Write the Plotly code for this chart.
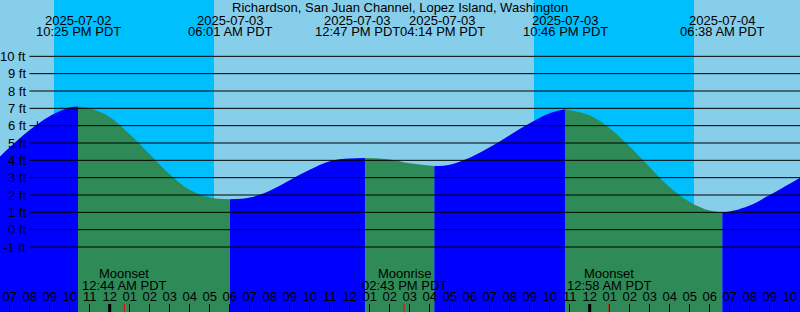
import plotly.graph_objects as go
import pandas as pd

# ---------------- data ----------------
title_text = "Richardson, San Juan Channel, Lopez Island, Washington"

extreme_times = ["2025-07-02 22:25", "2025-07-03 06:01", "2025-07-03 12:47",
                 "2025-07-03 16:14", "2025-07-03 22:46", "2025-07-04 06:38"]
extreme_heights = [7.1, 1.75, 4.13, 3.67, 6.95, 1.0]
extreme_dates = ["2025-07-02", "2025-07-03", "2025-07-03",
                 "2025-07-03", "2025-07-03", "2025-07-04"]
extreme_clock = ["10:25 PM PDT", "06:01 AM PDT", "12:47 PM PDT",
                 "04:14 PM PDT", "10:46 PM PDT", "06:38 AM PDT"]

# tide heights (ft)
reading_times = [
    "2025-07-02 18:30", "2025-07-02 19:00", "2025-07-02 20:00", "2025-07-02 21:00",
    "2025-07-02 22:00", "2025-07-02 23:00", "2025-07-03 00:00", "2025-07-03 01:00",
    "2025-07-03 02:00", "2025-07-03 03:00", "2025-07-03 04:00", "2025-07-03 05:00",
    "2025-07-03 07:00", "2025-07-03 08:00", "2025-07-03 09:00", "2025-07-03 10:00",
    "2025-07-03 11:00", "2025-07-03 12:00", "2025-07-03 14:00", "2025-07-03 15:00",
    "2025-07-03 17:00", "2025-07-03 18:00", "2025-07-03 19:00", "2025-07-03 20:00",
    "2025-07-03 21:00", "2025-07-03 22:00", "2025-07-04 00:00", "2025-07-04 01:00",
    "2025-07-04 02:00", "2025-07-04 03:00", "2025-07-04 04:00", "2025-07-04 05:00",
    "2025-07-04 06:00", "2025-07-04 07:00", "2025-07-04 08:00", "2025-07-04 09:00",
    "2025-07-04 10:00", "2025-07-04 10:31",
]
reading_heights = [
    4.2, 4.75, 5.75, 6.55,
    7.05, 7.0, 6.5, 5.5,
    4.35, 3.2, 2.3, 1.85,
    1.85, 2.25, 2.85, 3.45,
    3.95, 4.1, 4.05, 3.83,
    3.75, 4.15, 4.75, 5.45,
    6.14, 6.72, 6.6, 5.85,
    4.8, 3.6, 2.45, 1.6,
    1.1, 1.05, 1.4, 2.0,
    2.65, 3.0,
]

night_starts = ["2025-07-02 21:13", "2025-07-03 21:13"]
night_ends = ["2025-07-03 05:13", "2025-07-04 05:13"]

moon_times = ["2025-07-03 00:44", "2025-07-03 14:43", "2025-07-04 00:58"]
moon_events = ["Moonset", "Moonrise", "Moonset"]
moon_clock = ["12:44 AM PDT", "02:43 PM PDT", "12:58 AM PDT"]

midnights = ["2025-07-03 00:00", "2025-07-04 00:00"]

now_time = "2025-07-02 20:23"
now_height = 6.0

x_range = ["2025-07-02 18:31", "2025-07-04 10:31"]
y_range = [-4.75, 13.25]
grid_levels = list(range(-1, 11))

# ---------------- styling ----------------
W, H = 800, 312
FONT = "Liberation Sans, Arial, sans-serif"
FS = 13
DAY = "#87CEEB"
NIGHT = "#00BFFF"
RISE = "#0000FF"
FALL = "#2E8B57"
BASE = -20
label_xshift = [0, 0, -8, 8.5, 0, 0]   # crowded top labels pushed apart

pts = pd.concat([
    pd.DataFrame({"t": pd.to_datetime(reading_times), "h": reading_heights, "ext": False}),
    pd.DataFrame({"t": pd.to_datetime(extreme_times), "h": extreme_heights, "ext": True}),
]).sort_values("t").reset_index(drop=True)

bounds = [0] + list(pts.index[pts["ext"]]) + [len(pts) - 1]

fig = go.Figure()
for a, b in zip(bounds[:-1], bounds[1:]):
    seg = pts.iloc[a:b + 1]
    color = RISE if seg["h"].iloc[-1] > seg["h"].iloc[0] else FALL
    fig.add_trace(go.Scatter(x=[seg["t"].iloc[0], seg["t"].iloc[-1]], y=[BASE, BASE],
                             mode="lines", line=dict(width=0), hoverinfo="skip",
                             showlegend=False))
    fig.add_trace(go.Scatter(x=seg["t"], y=seg["h"], mode="lines",
                             line=dict(width=0, color=color, shape="spline", smoothing=1),
                             fill="tonexty", fillcolor=color, hoverinfo="skip",
                             showlegend=False))

shapes = []
for s, e in zip(night_starts, night_ends):
    shapes.append(dict(type="rect", xref="x", yref="paper", x0=s, x1=e, y0=0, y1=1,
                       fillcolor=NIGHT, line=dict(width=0), layer="below"))
for lv in grid_levels:
    shapes.append(dict(type="line", xref="paper", yref="y", x0=29.5 / W, x1=1, y0=lv, y1=lv,
                       line=dict(color="black", width=1), layer="above"))
for m in midnights:
    shapes.append(dict(type="line", xref="x", yref="paper", x0=m, x1=m, y0=0, y1=8 / H,
                       line=dict(color="black", width=3), layer="above"))
for m in moon_times:
    shapes.append(dict(type="line", xref="x", yref="paper", x0=m, x1=m, y0=0, y1=8 / H,
                       line=dict(color="red", width=1), layer="above"))
shapes.append(dict(type="line", xref="x", yref="y", x0=now_time, x1=now_time,
                   y0=now_height - 0.26, y1=now_height + 0.26,
                   line=dict(color="black", width=1), layer="above"))

ann = []
font = dict(family=FONT, size=FS, color="black")
ann.append(dict(text=title_text, xref="paper", yref="paper", x=0.5, y=1 - 7.5 / H,
                xanchor="center", yanchor="middle", showarrow=False, font=font))
for t, d, c, sh in zip(extreme_times, extreme_dates, extreme_clock, label_xshift):
    ann.append(dict(text=d, xref="x", yref="paper", x=t, y=1 - 20 / H, xshift=sh,
                    xanchor="center", yanchor="middle", showarrow=False, font=font))
    ann.append(dict(text=c, xref="x", yref="paper", x=t, y=1 - 32 / H, xshift=sh,
                    xanchor="center", yanchor="middle", showarrow=False, font=font))
for t, ev, c in zip(moon_times, moon_events, moon_clock):
    ann.append(dict(text=ev, xref="x", yref="paper", x=t, y=1 - 273 / H,
                    xanchor="center", yanchor="middle", showarrow=False, font=font))
    ann.append(dict(text=c, xref="x", yref="paper", x=t, y=1 - 285 / H,
                    xanchor="center", yanchor="middle", showarrow=False, font=font))
for lv in grid_levels:
    ann.append(dict(text=f"{lv} ft", xref="paper", yref="y", x=27.5 / W, y=lv,
                    xanchor="right", yanchor="middle", showarrow=False, font=font))

fig.update_layout(
    width=W, height=H, margin=dict(l=0, r=0, t=0, b=0),
    plot_bgcolor=DAY, paper_bgcolor=DAY,
    shapes=shapes, annotations=ann, showlegend=False,
    xaxis=dict(range=x_range, type="date", showgrid=False, zeroline=False, showline=False,
               ticks="inside", ticklen=8, tickwidth=1, tickcolor="black",
               dtick=3600000, tick0="2025-07-02 00:00", tickformat="%I",
               ticklabelposition="inside", tickfont=dict(family=FONT, size=FS, color="black"),
               fixedrange=True),
    yaxis=dict(range=y_range, visible=False, fixedrange=True),
)

fig.write_html("out.html")
